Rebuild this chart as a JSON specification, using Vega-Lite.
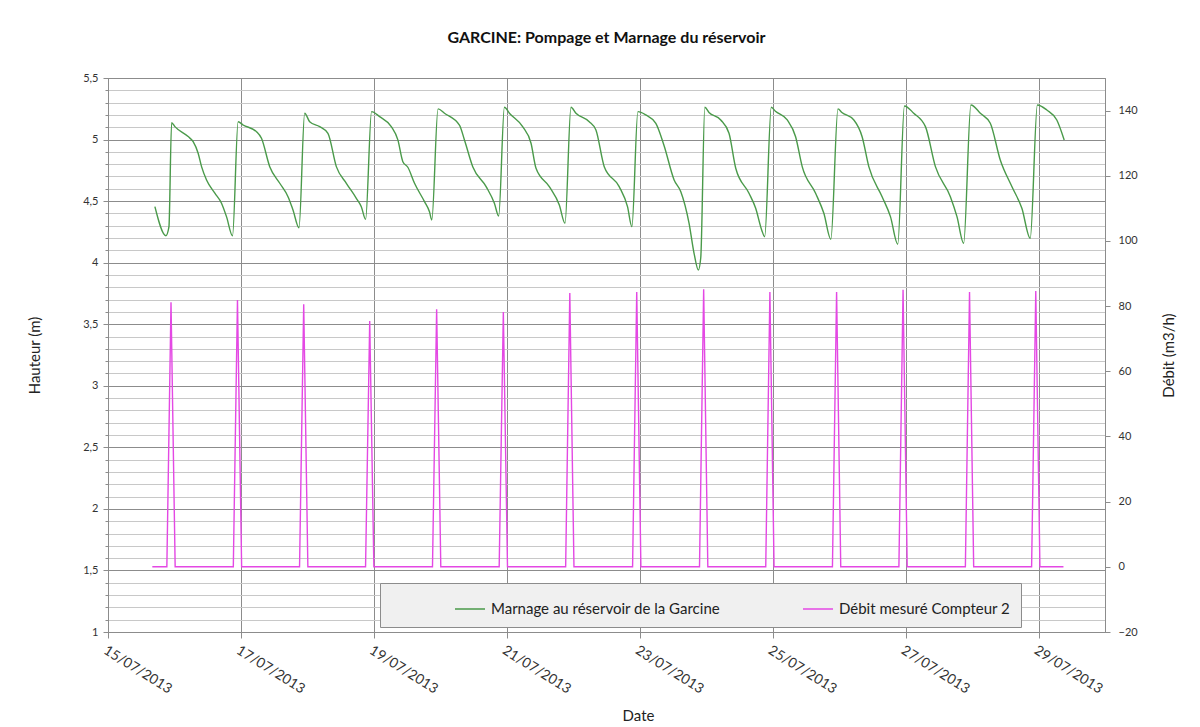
{
  "$schema": "https://vega.github.io/schema/vega-lite/v6.json",
  "width": 997,
  "height": 554,
  "autosize": {"type": "none"},
  "padding": {"left": 108, "top": 78, "right": 95, "bottom": 95},
  "background": "white",
  "title": {"text": "GARCINE: Pompage et Marnage du réservoir", "font": "Lato", "fontSize": 16, "fontWeight": "bold", "color": "#111", "offset": 26, "anchor": "middle"},
  "config": {
    "view": {"stroke": "#8c8c8c", "strokeWidth": 1},
    "font": "Lato",
    "axis": {"labelFont": "Lato", "titleFont": "Lato", "labelColor": "#333", "titleColor": "#222", "titleFontWeight": "normal", "domainColor": "#8c8c8c", "tickColor": "#8c8c8c"}
  },
  "datasets": {
    "niveau": [
      {"t": "2013-07-15T16:56", "h": 4.455}, {"t": "2013-07-15T20:55", "h": 4.219}, {"t": "2013-07-15T22:00", "h": 4.29}, {"t": "2013-07-15T22:58", "h": 5.137},
      {"t": "2013-07-16T00:09", "h": 5.105}, {"t": "2013-07-16T04:57", "h": 5.024}, {"t": "2013-07-16T06:45", "h": 4.983}, {"t": "2013-07-16T08:33", "h": 4.889}, {"t": "2013-07-16T09:47", "h": 4.78}, {"t": "2013-07-16T11:35", "h": 4.672}, {"t": "2013-07-16T14:35", "h": 4.564}, {"t": "2013-07-16T16:59", "h": 4.483}, {"t": "2013-07-16T18:47", "h": 4.374}, {"t": "2013-07-16T20:58", "h": 4.219}, {"t": "2013-07-16T22:59", "h": 5.145},
      {"t": "2013-07-17T00:47", "h": 5.118}, {"t": "2013-07-17T05:37", "h": 5.064}, {"t": "2013-07-17T07:25", "h": 5.01}, {"t": "2013-07-17T10:24", "h": 4.78}, {"t": "2013-07-17T14:01", "h": 4.645}, {"t": "2013-07-17T17:00", "h": 4.536}, {"t": "2013-07-17T18:48", "h": 4.428}, {"t": "2013-07-17T20:58", "h": 4.284}, {"t": "2013-07-17T23:01", "h": 5.214},
      {"t": "2013-07-18T00:49", "h": 5.145}, {"t": "2013-07-18T04:26", "h": 5.105}, {"t": "2013-07-18T07:25", "h": 5.051}, {"t": "2013-07-18T10:27", "h": 4.78}, {"t": "2013-07-18T14:04", "h": 4.645}, {"t": "2013-07-18T17:40", "h": 4.523}, {"t": "2013-07-18T19:28", "h": 4.455}, {"t": "2013-07-18T21:01", "h": 4.352}, {"t": "2013-07-18T23:10", "h": 5.227},
      {"t": "2013-07-19T02:04", "h": 5.186}, {"t": "2013-07-19T06:17", "h": 5.105}, {"t": "2013-07-19T08:40", "h": 4.997}, {"t": "2013-07-19T10:28", "h": 4.82}, {"t": "2013-07-19T12:16", "h": 4.775}, {"t": "2013-07-19T14:41", "h": 4.645}, {"t": "2013-07-19T18:17", "h": 4.496}, {"t": "2013-07-19T20:05", "h": 4.414}, {"t": "2013-07-19T20:55", "h": 4.347}, {"t": "2013-07-19T23:10", "h": 5.249},
      {"t": "2013-07-20T01:30", "h": 5.214}, {"t": "2013-07-20T06:54", "h": 5.118}, {"t": "2013-07-20T08:43", "h": 4.997}, {"t": "2013-07-20T11:42", "h": 4.78}, {"t": "2013-07-20T16:32", "h": 4.618}, {"t": "2013-07-20T19:31", "h": 4.483}, {"t": "2013-07-20T21:04", "h": 4.379}, {"t": "2013-07-20T23:08", "h": 5.262},
      {"t": "2013-07-21T00:56", "h": 5.214}, {"t": "2013-07-21T05:43", "h": 5.105}, {"t": "2013-07-21T08:45", "h": 4.97}, {"t": "2013-07-21T10:33", "h": 4.767}, {"t": "2013-07-21T15:21", "h": 4.618}, {"t": "2013-07-21T18:58", "h": 4.469}, {"t": "2013-07-21T21:01", "h": 4.32}, {"t": "2013-07-21T23:10", "h": 5.262},
      {"t": "2013-07-22T00:58", "h": 5.214}, {"t": "2013-07-22T05:46", "h": 5.145}, {"t": "2013-07-22T08:11", "h": 5.078}, {"t": "2013-07-22T11:11", "h": 4.78}, {"t": "2013-07-22T16:35", "h": 4.618}, {"t": "2013-07-22T19:35", "h": 4.455}, {"t": "2013-07-22T21:10", "h": 4.293}, {"t": "2013-07-22T23:20", "h": 5.227},
      {"t": "2013-07-23T02:12", "h": 5.2}, {"t": "2013-07-23T05:49", "h": 5.132}, {"t": "2013-07-23T08:48", "h": 4.95}, {"t": "2013-07-23T12:25", "h": 4.672}, {"t": "2013-07-23T14:50", "h": 4.577}, {"t": "2013-07-23T17:49", "h": 4.32}, {"t": "2013-07-23T19:37", "h": 4.076}, {"t": "2013-07-23T21:10", "h": 3.94}, {"t": "2013-07-23T22:02", "h": 4.04}, {"t": "2013-07-23T23:30", "h": 5.262},
      {"t": "2013-07-24T01:00", "h": 5.22}, {"t": "2013-07-24T05:15", "h": 5.159}, {"t": "2013-07-24T08:14", "h": 5.051}, {"t": "2013-07-24T10:40", "h": 4.767}, {"t": "2013-07-24T15:27", "h": 4.564}, {"t": "2013-07-24T17:52", "h": 4.442}, {"t": "2013-07-24T20:02", "h": 4.266}, {"t": "2013-07-24T21:07", "h": 4.211}, {"t": "2013-07-24T23:30", "h": 5.262},
      {"t": "2013-07-25T01:00", "h": 5.23}, {"t": "2013-07-25T05:16", "h": 5.159}, {"t": "2013-07-25T08:17", "h": 5.023}, {"t": "2013-07-25T10:40", "h": 4.78}, {"t": "2013-07-25T15:30", "h": 4.564}, {"t": "2013-07-25T18:29", "h": 4.401}, {"t": "2013-07-25T21:01", "h": 4.19}, {"t": "2013-07-25T23:35", "h": 5.249},
      {"t": "2013-07-26T01:00", "h": 5.22}, {"t": "2013-07-26T05:19", "h": 5.159}, {"t": "2013-07-26T08:18", "h": 5.023}, {"t": "2013-07-26T10:43", "h": 4.78}, {"t": "2013-07-26T15:31", "h": 4.536}, {"t": "2013-07-26T18:32", "h": 4.374}, {"t": "2013-07-26T21:10", "h": 4.15}, {"t": "2013-07-26T23:35", "h": 5.273},
      {"t": "2013-07-27T02:56", "h": 5.214}, {"t": "2013-07-27T07:10", "h": 5.105}, {"t": "2013-07-27T10:46", "h": 4.78}, {"t": "2013-07-27T16:10", "h": 4.536}, {"t": "2013-07-27T18:33", "h": 4.374}, {"t": "2013-07-27T20:58", "h": 4.158}, {"t": "2013-07-27T23:35", "h": 5.281},
      {"t": "2013-07-28T02:59", "h": 5.214}, {"t": "2013-07-28T06:35", "h": 5.132}, {"t": "2013-07-28T10:11", "h": 4.834}, {"t": "2013-07-28T14:22", "h": 4.618}, {"t": "2013-07-28T17:59", "h": 4.442}, {"t": "2013-07-28T21:00", "h": 4.198}, {"t": "2013-07-28T23:35", "h": 5.281},
      {"t": "2013-07-29T03:00", "h": 5.24}, {"t": "2013-07-29T06:36", "h": 5.159}, {"t": "2013-07-29T09:16", "h": 4.997}
    ],
    "debit": [
      {"t": "2013-07-15T16:00", "q": 0},
      {"t": "2013-07-15T21:15", "q": 0}, {"t": "2013-07-15T22:45", "q": 81.2}, {"t": "2013-07-16T00:15", "q": 0},
      {"t": "2013-07-16T21:15", "q": 0}, {"t": "2013-07-16T22:45", "q": 81.9}, {"t": "2013-07-17T00:15", "q": 0},
      {"t": "2013-07-17T21:10", "q": 0}, {"t": "2013-07-17T22:40", "q": 80.6}, {"t": "2013-07-18T00:10", "q": 0},
      {"t": "2013-07-18T21:00", "q": 0}, {"t": "2013-07-18T22:30", "q": 75.4}, {"t": "2013-07-19T00:00", "q": 0},
      {"t": "2013-07-19T21:10", "q": 0}, {"t": "2013-07-19T22:40", "q": 79.0}, {"t": "2013-07-20T00:10", "q": 0},
      {"t": "2013-07-20T21:15", "q": 0}, {"t": "2013-07-20T22:45", "q": 78.2}, {"t": "2013-07-21T00:15", "q": 0},
      {"t": "2013-07-21T21:15", "q": 0}, {"t": "2013-07-21T22:45", "q": 84.0}, {"t": "2013-07-22T00:15", "q": 0},
      {"t": "2013-07-22T21:25", "q": 0}, {"t": "2013-07-22T22:55", "q": 84.3}, {"t": "2013-07-23T00:25", "q": 0},
      {"t": "2013-07-23T21:35", "q": 0}, {"t": "2013-07-23T23:05", "q": 85.2}, {"t": "2013-07-24T00:35", "q": 0},
      {"t": "2013-07-24T21:30", "q": 0}, {"t": "2013-07-24T23:00", "q": 84.3}, {"t": "2013-07-25T00:30", "q": 0},
      {"t": "2013-07-25T21:35", "q": 0}, {"t": "2013-07-25T23:05", "q": 84.3}, {"t": "2013-07-26T00:35", "q": 0},
      {"t": "2013-07-26T21:35", "q": 0}, {"t": "2013-07-26T23:05", "q": 85.0}, {"t": "2013-07-27T00:35", "q": 0},
      {"t": "2013-07-27T21:35", "q": 0}, {"t": "2013-07-27T23:05", "q": 84.3}, {"t": "2013-07-28T00:35", "q": 0},
      {"t": "2013-07-28T21:30", "q": 0}, {"t": "2013-07-28T23:00", "q": 84.6}, {"t": "2013-07-29T00:30", "q": 0},
      {"t": "2013-07-29T09:00", "q": 0}
    ]
  },
  "encoding": {
    "x": {
      "field": "t", "type": "temporal",
      "scale": {"domain": [{"year": 2013, "month": 7, "date": 15}, {"year": 2013, "month": 7, "date": 30}]},
      "axis": {
        "title": "Date", "titleFontSize": 15, "titlePadding": 12, "titleX": 530,
        "values": [{"year": 2013, "month": 7, "date": 15}, {"year": 2013, "month": 7, "date": 17}, {"year": 2013, "month": 7, "date": 19}, {"year": 2013, "month": 7, "date": 21}, {"year": 2013, "month": 7, "date": 23}, {"year": 2013, "month": 7, "date": 25}, {"year": 2013, "month": 7, "date": 27}, {"year": 2013, "month": 7, "date": 29}],
        "format": "%d/%m/%Y", "labelAngle": 32, "labelAlign": "left", "labelBaseline": "top", "labelFontSize": 14, "labelPadding": 5, "tickSize": 6,
        "grid": true, "gridColor": "#8c8c8c", "gridWidth": 1, "labelOverlap": false, "labelFlush": false
      }
    }
  },
  "layer": [
    {
      "data": {"name": "niveau"},
      "mark": {"type": "line", "strokeOpacity": 0},
      "encoding": {
        "y": {
          "field": "h", "type": "quantitative",
          "scale": {"domain": [1, 5.5], "nice": false, "zero": false},
          "axis": {"orient": "left", "title": null, "labels": false, "domain": false, "ticks": true, "tickSize": 3,
            "values": [1.1, 1.2, 1.3, 1.4, 1.6, 1.7, 1.8, 1.9, 2.1, 2.2, 2.3, 2.4, 2.6, 2.7, 2.8, 2.9, 3.1, 3.2, 3.3, 3.4, 3.6, 3.7, 3.8, 3.9, 4.1, 4.2, 4.3, 4.4, 4.6, 4.7, 4.8, 4.9, 5.1, 5.2, 5.3, 5.4],
            "grid": true, "gridColor": "#c8c8c8", "gridWidth": 1}
        }
      }
    },
    {
      "data": {"name": "niveau"},
      "mark": {"type": "line", "interpolate": "monotone", "strokeWidth": 1.4},
      "encoding": {
        "y": {
          "field": "h", "type": "quantitative",
          "scale": {"domain": [1, 5.5], "nice": false, "zero": false},
          "axis": {"orient": "left", "title": "Hauteur (m)", "titleFontSize": 15, "titlePadding": 40,
            "values": [1, 1.5, 2, 2.5, 3, 3.5, 4, 4.5, 5, 5.5],
            "labelExpr": "replace(datum.value + '', '.', ',')", "labelFontSize": 11, "labelPadding": 5, "tickSize": 5,
            "grid": true, "gridColor": "#8c8c8c", "gridWidth": 1}
        },
        "color": {
          "datum": "Marnage au réservoir de la Garcine",
          "scale": {"domain": ["Marnage au réservoir de la Garcine", "Débit mesuré Compteur 2"], "range": ["#4a9a4a", "#e448e4"]},
          "legend": {
            "orient": "none", "legendX": 272, "legendY": 505, "direction": "horizontal", "columns": 2, "gridAlign": "all",
            "title": null,
            "fillColor": "#f0f0f0", "strokeColor": "#8c8c8c", "padding": 10,
            "symbolType": "stroke", "symbolSize": 900, "symbolStrokeWidth": 1.5, "symbolOffset": 64, "labelOffset": 5, "labelLimit": 0,
            "labelFont": "Lato", "labelFontSize": 15, "labelColor": "#222", "columnPadding": 18
          }
        }
      }
    },
    {
      "data": {"name": "debit"},
      "mark": {"type": "line", "strokeWidth": 1.4},
      "encoding": {
        "y": {
          "field": "q", "type": "quantitative",
          "scale": {"domain": [-20, 150], "nice": false, "zero": false},
          "axis": {"orient": "right", "title": "Débit (m3/h)", "titleFontSize": 15, "titleAngle": -90, "titleBaseline": "top", "titlePadding": 24,
            "values": [-20, 0, 20, 40, 60, 80, 100, 120, 140], "format": "d",
            "labelFontSize": 11, "labelPadding": 8, "tickSize": 5, "grid": false}
        },
        "color": {"datum": "Débit mesuré Compteur 2"}
      }
    }
  ],
  "resolve": {"scale": {"y": "independent"}, "axis": {"y": "independent"}}
}
